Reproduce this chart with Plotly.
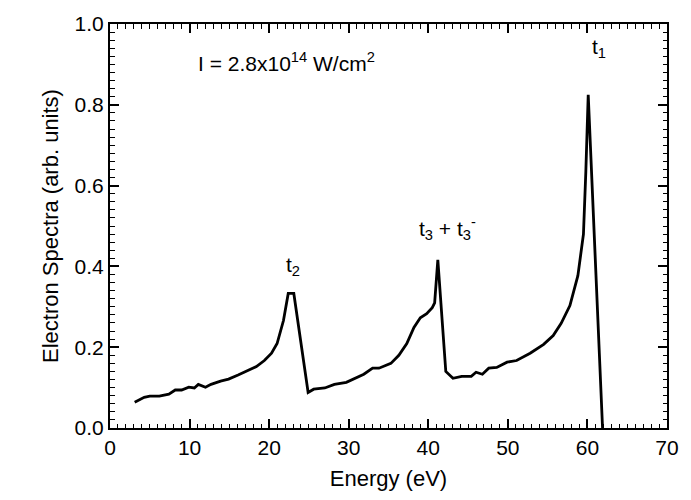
import plotly.graph_objects as go

# Photoelectron energy spectrum
energy = [3.1, 4.3, 5.0, 6.2, 7.4, 8.2, 9.0, 9.9, 10.6, 11.1, 12.0, 12.7, 13.9, 14.9,
          16.1, 17.3, 18.4, 19.4, 20.3, 21.0, 21.4, 21.8, 22.4, 23.1, 24.9, 25.6,
          27.0, 28.2, 29.7, 30.9, 31.9, 33.0, 33.8, 35.3, 36.3, 37.3, 38.2, 39.0,
          39.8, 40.5, 40.8, 41.2, 42.2, 43.1, 44.2, 45.4, 46.0, 46.8, 47.6, 48.6,
          49.9, 51.1, 52.8, 54.5, 55.7, 56.7, 57.8, 58.8, 59.5, 59.8, 60.1, 61.9]
spectra = [0.064, 0.076, 0.079, 0.079, 0.084, 0.094, 0.094, 0.101, 0.099, 0.108, 0.101, 0.108, 0.116, 0.121,
           0.131, 0.142, 0.152, 0.167, 0.185, 0.209, 0.236, 0.266, 0.333, 0.333, 0.088, 0.096,
           0.099, 0.108, 0.113, 0.123, 0.133, 0.148, 0.148, 0.160, 0.180, 0.209, 0.249, 0.273,
           0.283, 0.298, 0.310, 0.416, 0.140, 0.123, 0.128, 0.128, 0.138, 0.133, 0.148, 0.150,
           0.163, 0.167, 0.185, 0.207, 0.229, 0.259, 0.303, 0.377, 0.480, 0.635, 0.825, 0.0]

x_ticks = [0, 10, 20, 30, 40, 50, 60, 70]
y_ticks = [0.0, 0.2, 0.4, 0.6, 0.8, 1.0]

FONT = "Liberation Sans, Arial, Helvetica, sans-serif"

fig = go.Figure()
fig.add_trace(go.Scatter(
    x=energy, y=spectra, mode="lines",
    line=dict(color="black", width=2.8),
    showlegend=False, hoverinfo="skip",
))

axis_common = dict(
    showline=True, linewidth=2, linecolor="black", mirror="allticks",
    ticks="inside", ticklen=9, tickwidth=1.5, tickcolor="black",
    showgrid=False, zeroline=False,
    tickfont=dict(family=FONT, size=21, color="black"),
)

fig.update_xaxes(
    range=[0, 70], tickvals=x_ticks, ticktext=[str(v) for v in x_ticks],
    minor=dict(dtick=1, ticks="inside", ticklen=4.5, tickwidth=1.2, tickcolor="black"),
    title=dict(text="Energy (eV)", font=dict(family=FONT, size=22, color="black"), standoff=12),
    **axis_common,
)
fig.update_yaxes(
    range=[0, 1.0], tickvals=y_ticks, ticktext=[f"{v:.1f}" for v in y_ticks],
    minor=dict(dtick=0.02, ticks="inside", ticklen=4.5, tickwidth=1.2, tickcolor="black"),
    title=dict(text="Electron Spectra (arb. units)", font=dict(family=FONT, size=22, color="black"), standoff=10),
    **axis_common,
)

label_font = dict(family=FONT, size=21, color="black")
annotations = [
    dict(x=10.8, y=0.905, text="I = 2.8x10<sup>14</sup> W/cm<sup>2</sup>", xanchor="left", yanchor="middle"),
    dict(x=61.4, y=0.94, text="t<sub>1</sub>", xanchor="center", yanchor="middle"),
    dict(x=23.0, y=0.40, text="t<sub>2</sub>", xanchor="center", yanchor="middle"),
    dict(x=42.4, y=0.495, text="t<sub>3</sub> + t<sub>3</sub><sup>-</sup>", xanchor="center", yanchor="middle"),
]
for a in annotations:
    fig.add_annotation(xref="x", yref="y", showarrow=False, font=label_font, **a)

fig.update_layout(
    width=691, height=500,
    margin=dict(l=110, r=15, t=22, b=72),
    paper_bgcolor="white", plot_bgcolor="white",
    font=dict(family=FONT, color="black"),
)

fig.write_html("out.html")
